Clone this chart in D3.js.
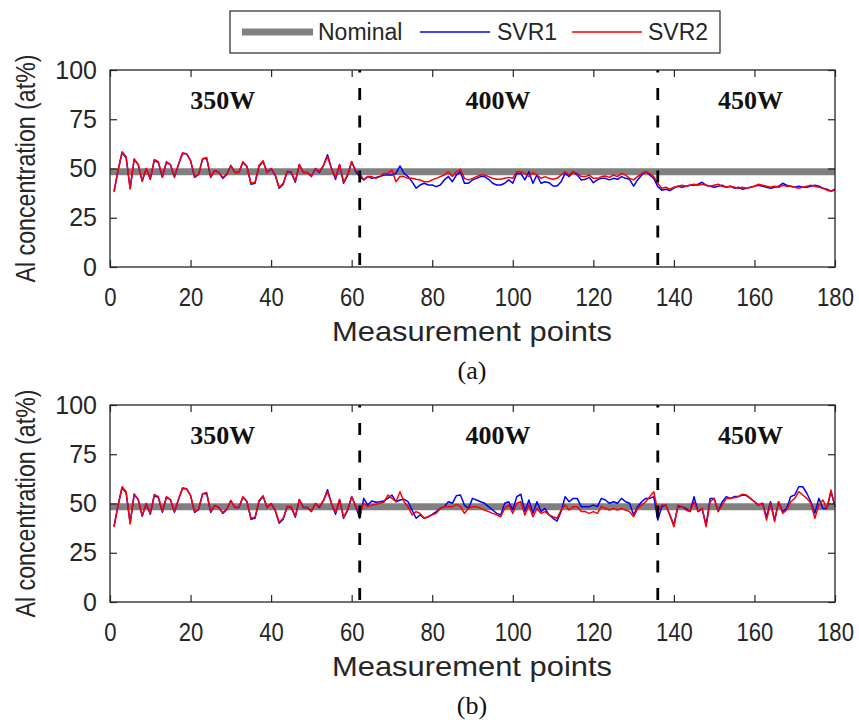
<!DOCTYPE html>
<html><head><meta charset="utf-8">
<script src="https://cdn.jsdelivr.net/npm/d3@7"></script>
<style>body{margin:0;background:#fff}</style></head>
<body>
<svg id="chart" width="859" height="725"></svg>
<script>
// ---------- DATA ----------
const points = d3.range(1, 181); // measurement point index 1..180
const xTicks = [0, 20, 40, 60, 80, 100, 120, 140, 160, 180];
const yTicks = [0, 25, 50, 75, 100];
const nominal = 48.4;
const powerBreaks = [62, 136];
const powerLabels = ["350W", "400W", "450W"];
const powerLabelPos = [28, 96.3, 159];
const panelLabels = ["(a)", "(b)"];
const seriesNames = ["Nominal", "SVR1", "SVR2"];

// 350 W segment (points 1-61), same in both panels
const svr1_350 = [38.5,49,58,55.5,40,54.5,52,43.5,50,44.5,
  54,53,45.5,53,52,45.5,52,57.5,57.5,54,
  45.5,47,55,55,45.5,49,48,45,47,51.5,
  48,48,53,51,42,42.5,51,53.5,48,50,
  46.5,40,42,48.5,48,43,52,48,48,46,
  50,48,51.5,57,50,44.5,52,42.5,46.5,53.5,48.5];
const svr2_350 = [38,49,58.5,56,39.6,55,52,44,50,45,
  54.6,53.5,46,53.5,52,46,52,58,57.5,54,
  46,47,55,55.6,46,49,48,45.5,47,51.5,
  48,48,53.5,51,42.5,43,51.5,54,48,50,
  47,40.5,42.5,48.5,48.5,43.5,52,48,48,46,
  50,48.5,51.5,56,50,45.5,52,43,47,53.5,49];

// panel (a): points 62-180
const svr1_a_rest = [45.9,44.2,45.9,45.0,45.5,45.9,46.7,46.7,46.7,47.5,
  51.3,47.5,45.9,43.3,40.0,41.6,42.5,41.6,41.6,40.8,
  41.6,44.2,45.9,43.3,46.7,48.4,42.5,42.5,44.2,45.0,
  45.9,45.9,44.5,42.5,41.6,41.6,42.5,44.2,42.5,47.5,
  47.5,44.2,48.4,42.5,46.7,42.5,43.3,42.8,41.1,41.1,
  43.3,47.5,45.9,48.4,46.7,44.2,44.5,45.5,42.8,44.2,
  45.0,45.0,44.2,45.0,44.5,45.9,45.0,44.5,41.1,44.2,
  46.7,48.4,46.7,45.0,40.8,
  39,39.5,38.8,40,41,40.5,41,41.5,41.5,42,
  43,41.5,41,40.5,41,41.5,40.5,41,40,40.5,
  39.5,40,40.5,41,41.5,41,40.5,40,40.5,41,
  42.5,41.5,41,40.5,41,40.5,40.5,41,41.5,41,
  40,39.5,38.5,39.5];
const svr2_a_rest = [47.5,44.2,45.9,45.9,45.0,45.9,47.5,47.5,49.2,43.3,
  45.9,45.9,45.0,45.0,44.5,44.2,43.3,43.3,44.2,45.0,
  45.9,46.7,48.4,45.9,48.4,49.6,45.0,44.2,45.0,45.9,
  46.7,46.7,45.9,45.0,44.5,44.5,45.0,45.5,45.0,48.4,
  48.4,47.5,45.9,47.9,46.7,45.0,45.9,45.0,44.5,45.0,
  46.7,48.4,46.7,48.4,47.5,45.9,45.9,46.7,45.0,45.0,
  45.9,46.2,45.5,46.7,45.9,47.5,46.7,45.0,44.2,45.9,
  47.5,48.4,47.5,45.9,42.5,
  40.0,40.5,39.5,40.5,41,41.5,41,41.5,42,41.5,
  42,41.5,41,41.5,42,41,40.5,41,40.5,40,
  40.5,40,40.5,41,42,41.5,41,40.5,41,40.5,
  41.5,41,41,40.5,40,40.5,41,41.5,41,40.5,
  40,39,38.5,39];

// panel (b): points 62-180
const svr1_b_rest = [42.5,52.6,49.2,51.3,50.6,50.9,51.3,52.6,54.3,50.9,
  51.8,52.1,50.9,46.7,42.5,44.2,42.5,43.3,44.5,45.9,
  47.5,48.4,50.9,50.1,54.0,54.3,49.2,47.5,52.6,51.8,
  50.9,50.1,48.4,46.7,45.0,44.2,50.1,50.9,46.7,53.5,
  54.7,45.9,51.8,45.0,50.9,45.9,47.5,44.2,42.5,41.1,
  45.9,53.5,50.9,52.6,52.6,48.4,48.4,48.4,49.2,48.4,
  52.6,51.8,50.1,50.9,50.1,52.6,50.9,50.1,44.2,48.4,
  50.9,52.6,52.6,53.5,41.6,48.4,49.2,44.2,39.1,48.4,
  48.4,47.5,45.9,53.5,45.9,47.5,39.1,52.6,52.6,45.9,
  50.9,53.5,52.6,53.5,53.5,54.3,54.0,52.6,50.9,49.2,
  50.1,43.3,50.9,41.6,50.9,45.9,47.5,53.5,54.3,58.5,
  58.5,55.2,50.9,45.0,52.6,47.5,47.5,56.0,48.4];
const svr2_b_rest = [44.2,50.1,48.4,49.2,49.6,50.1,50.6,54.3,52.6,50.9,
  56.0,50.9,48.4,44.2,45.9,45.0,42.5,43.3,44.2,45.0,
  47.5,48.4,48.4,48.4,49.6,48.4,45.0,47.5,48.4,48.4,
  47.5,46.7,45.9,45.0,44.2,43.3,47.5,49.2,45.0,50.1,
  50.9,44.2,49.2,43.3,47.5,45.0,45.9,44.2,43.3,42.5,
  46.7,49.2,46.7,48.4,48.4,45.9,45.9,45.0,45.9,45.0,
  48.4,47.5,46.7,47.5,46.7,47.5,46.7,45.9,43.3,47.5,
  49.2,50.9,53.5,56.0,45.9,49.2,49.2,44.2,38.2,49.2,
  48.4,46.7,45.9,50.9,45.9,47.5,38.2,50.9,52.6,45.9,
  49.2,52.6,52.6,52.9,53.5,54.7,54.3,52.6,50.9,49.2,
  50.1,41.6,50.1,40.8,50.9,45.0,46.7,50.9,52.6,56.0,
  54.3,52.6,50.1,42.5,49.2,51.8,47.5,56.8,48.4];

const panels = [
  {svr1: svr1_350.concat(svr1_a_rest), svr2: svr2_350.concat(svr2_a_rest), top: 70, bottom: 267},
  {svr1: svr1_350.concat(svr1_b_rest), svr2: svr2_350.concat(svr2_b_rest), top: 405, bottom: 602}
];

// ---------- STYLE ----------
const C_NOM = "#808080", C_SVR1 = "#0000ff", C_SVR2 = "#ff0000", C_AX = "#262626";
const SANS = "'Liberation Sans', Arial, Helvetica, sans-serif";
const SERIF = "'Liberation Serif', 'Times New Roman', serif";

const svg = d3.select("#chart");
const x = d3.scaleLinear().domain([0, 180]).range([110, 835]);

panels.forEach((p, pi) => {
  const y = d3.scaleLinear().domain([0, 100]).range([p.bottom, p.top]);
  const g = svg.append("g");

  // nominal
  g.append("line")
    .attr("x1", x(0)).attr("x2", x(180))
    .attr("y1", y(nominal)).attr("y2", y(nominal))
    .attr("stroke", C_NOM).attr("stroke-width", 7);

  const line = d3.line().x((d, i) => x(points[i])).y(d => y(d));
  g.append("path").datum(p.svr1).attr("d", line)
    .attr("fill", "none").attr("stroke", C_SVR1).attr("stroke-width", 1.5).attr("stroke-linejoin", "round");
  g.append("path").datum(p.svr2).attr("d", line)
    .attr("fill", "none").attr("stroke", C_SVR2).attr("stroke-width", 1.5).attr("stroke-linejoin", "round");

  // dashed power breaks
  powerBreaks.forEach(b => {
    g.append("line")
      .attr("x1", x(b)).attr("x2", x(b))
      .attr("y1", p.top).attr("y2", p.bottom)
      .attr("stroke", "#000").attr("stroke-width", 2.8)
      .attr("stroke-dasharray", "12,15.5").attr("stroke-dashoffset", 9.5);
  });

  // axes
  const axB = g.append("g").attr("transform", `translate(0,${p.bottom})`)
    .call(d3.axisBottom(x).tickValues(xTicks).tickSizeInner(-7).tickSizeOuter(0).tickPadding(21));
  const axT = g.append("g").attr("transform", `translate(0,${p.top})`)
    .call(d3.axisTop(x).tickValues(xTicks).tickSizeInner(-7).tickSizeOuter(0).tickFormat(""));
  const axL = g.append("g").attr("transform", `translate(${x(0)},0)`)
    .call(d3.axisLeft(y).tickValues(yTicks).tickSizeInner(-7).tickSizeOuter(0).tickPadding(13));
  const axR = g.append("g").attr("transform", `translate(${x(180)},0)`)
    .call(d3.axisRight(y).tickValues(yTicks).tickSizeInner(-7).tickSizeOuter(0).tickFormat(""));
  [axB, axT, axL, axR].forEach(a => {
    a.select(".domain").remove();
    a.selectAll(".tick line").attr("stroke", C_AX).attr("stroke-width", 1.2);
    a.selectAll("text").attr("fill", C_AX).attr("font-family", SANS);
  });
  axB.selectAll("text").attr("font-size", 26).attr("transform", "scale(0.85,1)");
  axL.selectAll("text").attr("font-size", 25);

  g.append("rect").attr("x", x(0)).attr("y", p.top)
    .attr("width", x(180) - x(0)).attr("height", p.bottom - p.top)
    .attr("fill", "none").attr("stroke", C_AX).attr("stroke-width", 1.3);

  // power labels
  powerLabels.forEach((t, i) => {
    g.append("text").attr("x", x(powerLabelPos[i])).attr("y", p.top + 39)
      .attr("text-anchor", "middle").attr("font-family", SERIF).attr("font-weight", "bold")
      .attr("font-size", 26).attr("fill", "#111").text(t);
  });

  // axis titles
  g.append("text").attr("x", 472).attr("y", p.bottom + 74)
    .attr("text-anchor", "middle").attr("font-family", SANS).attr("font-size", 28)
    .attr("textLength", 280).attr("lengthAdjust", "spacingAndGlyphs")
    .attr("fill", C_AX).text("Measurement points");
  g.append("text")
    .attr("transform", `translate(35,${(p.top + p.bottom) / 2}) rotate(-90)`)
    .attr("text-anchor", "middle").attr("font-family", SANS).attr("font-size", 28)
    .attr("textLength", 228).attr("lengthAdjust", "spacingAndGlyphs")
    .attr("fill", C_AX).text("Al concentration (at%)");
  g.append("text").attr("x", 472).attr("y", p.bottom + 112)
    .attr("text-anchor", "middle").attr("font-family", SERIF).attr("font-size", 26)
    .attr("fill", "#111").text(panelLabels[pi]);
});

// legend
const lg = svg.append("g");
lg.append("rect").attr("x", 230).attr("y", 11).attr("width", 490).attr("height", 42)
  .attr("fill", "#fff").attr("stroke", C_AX).attr("stroke-width", 1.2);
const legItems = [
  {name: seriesNames[0], color: C_NOM, w: 7, x1: 242, x2: 313, tx: 318},
  {name: seriesNames[1], color: C_SVR1, w: 1.5, x1: 420, x2: 490, tx: 497},
  {name: seriesNames[2], color: C_SVR2, w: 1.5, x1: 572, x2: 642, tx: 648}
];
legItems.forEach(d => {
  lg.append("line").attr("x1", d.x1).attr("x2", d.x2).attr("y1", 32).attr("y2", 32)
    .attr("stroke", d.color).attr("stroke-width", d.w);
  lg.append("text").attr("x", d.tx).attr("y", 40).attr("font-family", SANS)
    .attr("font-size", 23).attr("fill", C_AX).text(d.name);
});
</script>
</body></html>
